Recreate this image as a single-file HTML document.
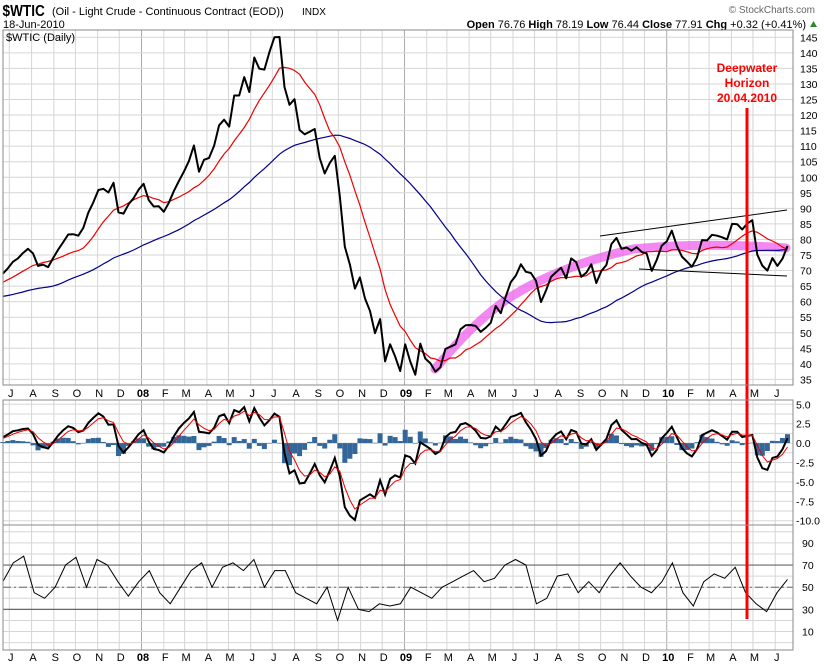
<!DOCTYPE html>
<html><head><meta charset="utf-8"><style>
html,body{margin:0;padding:0;background:#fff;}
svg{display:block;font-family:"Liberation Sans",sans-serif;}
</style></head><body>
<svg id="chart" width="824" height="666" viewBox="0 0 824 666">
<g id="hdr">
<text x="3" y="16" font-size="16" font-weight="bold" transform="scale(0.85,1)">$WTIC</text>
<text x="52" y="15" font-size="11">(Oil - Light Crude - Continuous Contract (EOD))</text>
<text x="302" y="15" font-size="10">INDX</text>
<text x="815" y="13" font-size="10" fill="#666" text-anchor="end">© StockCharts.com</text>
<text x="3" y="28" font-size="11">18-Jun-2010</text>
<text x="806" y="28" font-size="11" text-anchor="end"><tspan font-weight="bold">Open</tspan> 76.76 <tspan font-weight="bold">High</tspan> 78.19 <tspan font-weight="bold">Low</tspan> 76.44 <tspan font-weight="bold">Close</tspan> 77.91 <tspan font-weight="bold">Chg</tspan> +0.32 (+0.41%)</text>
<path d="M810 27 L813.5 21 L817 27 Z" fill="#2a8a2a"/>
</g>
<g id="grid"></g>
<g id="marks"></g>
<g id="frames"></g>
</svg>
<script>
const prior=[62,60,58,59,60,58,61,59,62,63,62,56,52,52,54,58,59,61,62,60,57,60,58,63,64,66,65,64,65,65,63,62,65,64,66,68,66,68,66,68];
const closes=[69,70.7,72.8,73.9,75.6,77,75.5,71.5,71.9,71.1,74,76.7,79.1,81.6,81.7,81.2,83.7,88.6,91.9,95.9,96.3,95.1,98.2,88.7,88.3,91.3,93.3,96,
97.9,92.7,90.6,90.7,88.9,91.8,95.5,98.8,101.8,105.2,110.2,101.8,105.6,106.2,110.1,116.7,118.5,116.3,126.3,126.3,132.2,127.4,138.5,134.9,134.6,140.2,145,145.1,129,123.3,125.1,115.2,113.8,114.6,115.5,106.2,101.2,104.6,106.9,93.9,77.7,71.9,64.2,67.8,61,57,49.9,54.4,40.8,46.3,42.4,37.7,
46.3,40.8,36.5,46.5,41.7,40.2,37.5,38.9,44.8,45.5,46.3,51.1,52.4,52.5,52.2,50.3,51.6,53.2,58.6,56.3,61.7,66.3,68.4,72,69.6,69.2,66.7,59.9,63.6,68,69.5,70.9,67.5,73.9,72.7,68,69.3,72,66,69.9,71.8,78.5,80.5,77,77.4,76.4,77.5,76,75.5,69.9,73.4,78,
79.4,82.8,78,74.5,72.9,71.2,74.1,79.8,79.7,81.5,81.2,80.7,80,85,84.9,83.2,85.1,86.2,75.1,71.6,70,74,71.5,73.8,77.9];
const rsiVals=[55,72,78,45,40,50,70,77,50,75,70,55,42,55,65,45,35,50,65,72,50,68,72,65,75,50,65,65,45,40,35,50,20,50,30,28,35,33,35,50,45,40,50,55,60,65,55,58,70,75,70,35,40,60,62,45,55,45,60,72,60,50,45,55,72,45,33,55,62,58,68,45,35,28,45,57];
const priceTicks=[145,140,135,130,125,120,115,110,105,100,95,90,85,80,75,70,65,60,55,50,45,40,35];
const macdTicks=[5,2.5,0,-2.5,-5,-7.5,-10];
const rsiTicks=[90,70,50,30,10];
const monthLabels=["J","A","S","O","N","D","08","F","M","A","M","J","J","A","S","O","N","D","09","F","M","A","M","J","J","A","S","O","N","D","10","F","M","A","M","J"];

const NS="http://www.w3.org/2000/svg";
function mk(tag,attrs,parent){const e=document.createElementNS(NS,tag);for(const k in attrs)e.setAttribute(k,attrs[k]);parent.appendChild(e);return e;}
const G=document.getElementById('grid'),M=document.getElementById('marks'),F=document.getElementById('frames');
const L=3,R=793;
const xw=i=>2.8+i*5.03;
const yP=v=>37.3+(145-v)*3.11;
const yM=v=>443.1-v*7.76;
const yR=v=>587.2-(v-50)*1.108;
const panels=[[30,385],[400,525],[525,650]];
const t0=Date.UTC(2007,6,1);
for(let m=0;m<36;m++){
  const d=Date.UTC(2007,6+m,1);const x=9.3+(d-t0)/86400000*0.7185;
  const yr=monthLabels[m].length==2;
  for(const p of panels){
    const ln=mk('line',{x1:x,x2:x,y1:p[0],y2:p[1],stroke:yr?'#aaa':'#d6d6d6','stroke-width':1},G);
    
    
  }
  for(const ly of [397,661]){
    const t=mk('text',{x:x+1.5,y:ly,'font-size':11,'text-anchor':'middle','font-weight':yr?'bold':'normal'},G);
    t.textContent=monthLabels[m];
    
    
  }
}
for(const v of priceTicks){
  const l=mk('line',{x1:L,x2:R,y1:yP(v),y2:yP(v),stroke:'#d6d6d6'},G);
  
  
  const t=mk('text',{x:800,y:yP(v)+4,'font-size':10.5},G);t.textContent=v;
  
  
}
for(let v=5;v>=-10;v-=1.25){
  const l=mk('line',{x1:L,x2:R,y1:yM(v),y2:yM(v),stroke:'#d6d6d6'},G);
  
  
}
for(const v of macdTicks){
  const t=mk('text',{x:796,y:yM(v)+4,'font-size':10.5},G);t.textContent=v.toFixed(1);
  
  
}
for(let v=0;v<=100;v+=10){
  if(yR(v)<527||yR(v)>648)continue;
  const l=mk('line',{x1:L,x2:R,y1:yR(v),y2:yR(v),stroke:'#d6d6d6'},G);
  
  
}
for(const v of rsiTicks){
  const t=mk('text',{x:802,y:yR(v)+4,'font-size':10.5},G);t.textContent=v;
  
  
}
for(const v of [70,30]){
  const l=mk('line',{x1:L,x2:R,y1:yR(v),y2:yR(v),stroke:'#666','stroke-width':1.2},G);
  
  
}
{const l=mk('line',{x1:L,x2:R,y1:yR(50),y2:yR(50),stroke:'#666','stroke-dasharray':'8,3,2,3'},G);

}

const all=prior.concat(closes);const P=prior.length;
function sma(n){return closes.map((_,i)=>{let s=0;for(let k=0;k<n;k++)s+=all[P+i-k];return s/n;});}
const ma50=sma(10),ma200=sma(40);
function ema(arr,a){let e=arr[0];return arr.map(v=>e=e+a*(v-e));}
const e12=ema(all,0.567),e26=ema(all,0.319);
const macdAll=e12.map((v,i)=>v-e26[i]);const sigAll=ema(macdAll,0.45);
const macd=macdAll.slice(P),sig=sigAll.slice(P);
function poly(vals,xf,yf,attrs,name){
  const pts=vals.map((v,i)=>xf(i).toFixed(1)+','+yf(v).toFixed(1)).join(' ');
  const p=mk('polyline',Object.assign({points:pts,fill:'none'},attrs),M);
  
  
  return p;
}
{const p=mk('path',{d:'M435 369 Q475 320 512 296 Q560 266 633 249 Q700 242 786 248',stroke:'#ee55ee','stroke-opacity':0.7,'stroke-width':9,fill:'none','stroke-linecap':'round'},M);

}
poly(ma200,xw,yP,{stroke:'#00008b','stroke-width':1.2},'ma-200-line');
poly(ma50,xw,yP,{stroke:'#e00','stroke-width':1.2},'ma-50-line');
poly(closes,xw,yP,{stroke:'#000','stroke-width':2,'stroke-linejoin':'round'},'price-line');
{const a=mk('line',{x1:600,y1:236,x2:787,y2:210,stroke:'#000','stroke-width':1},M);


const b=mk('line',{x1:639,y1:269,x2:787,y2:276,stroke:'#000','stroke-width':1},M);

}
macd.forEach((v,i)=>{const h=v-sig[i];const y0=yM(0),y1=yM(h);
  const r=mk('rect',{x:xw(i)-2.5,y:Math.min(y0,y1),width:5,height:Math.max(0.5,Math.abs(y1-y0)),fill:'#336699'},M);
  
  
});
poly(macd,xw,yM,{stroke:'#000','stroke-width':2},'macd-line');
poly(sig,xw,yM,{stroke:'#e00','stroke-width':1},'macd-signal-line');
const xr=i=>xw(0)+i*(xw(closes.length-1)-xw(0))/(rsiVals.length-1);
poly(rsiVals,xr,yR,{stroke:'#000','stroke-width':1},'rsi-line');
{const l=mk('line',{x1:747,x2:747,y1:108,y2:619,stroke:'#f00','stroke-width':3},M);


['Deepwater','Horizon','20.04.2010'].forEach((s,k)=>{const t=mk('text',{x:747,y:72+k*15,'font-size':12,'font-weight':'bold',fill:'#f00','text-anchor':'middle'},M);t.textContent=s;

});}
panels.forEach((p,k)=>{const r=mk('rect',{x:L,y:p[0],width:R-L,height:p[1]-p[0],fill:'none',stroke:'#888'},F);

});
{const t=mk('text',{x:6,y:41,'font-size':11},F);t.textContent='$WTIC (Daily)';

}
</script>
</body></html>
